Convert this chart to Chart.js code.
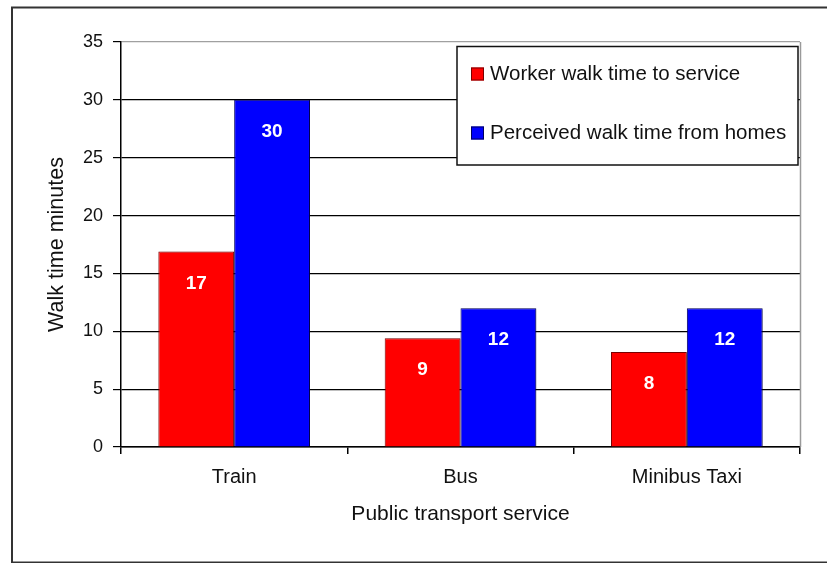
<!DOCTYPE html>
<html>
<head>
<meta charset="utf-8">
<script src="https://cdn.jsdelivr.net/npm/chart.js@4.4.1/dist/chart.umd.min.js"></script>
<style>
  html, body { margin: 0; padding: 0; background: #fff; }
  #wrap { width: 827px; height: 563px; }
</style>
</head>
<body>
<div id="wrap"><canvas id="c" width="827" height="563"></canvas></div>
<script>
const categories = ["Train", "Bus", "Minibus Taxi"];
const workerWalk = [16.9, 9.4, 8.2];
const perceivedWalk = [30, 12, 12];
const seriesNames = ["Worker walk time to service", "Perceived walk time from homes"];
const yTicks = [0, 5, 10, 15, 20, 25, 30, 35];
const xTitle = "Public transport service";
const yTitle = "Walk time minutes";

const FONT = "'Liberation Sans', Arial, sans-serif";

const decor = {
  id: 'decor',
  beforeDraw(chart) {
    const ctx = chart.ctx;
    ctx.save();
    ctx.fillStyle = '#fff';
    ctx.fillRect(0, 0, chart.width, chart.height);
    ctx.strokeStyle = '#333';
    ctx.lineWidth = 2;
    ctx.strokeRect(12, 7.5, 900, 555);
    ctx.restore();
  },
  beforeDatasetsDraw(chart) {
    const ctx = chart.ctx;
    ctx.save();
    ctx.shadowColor = 'rgba(0,0,0,0.25)';
    ctx.shadowOffsetX = 2;
    ctx.shadowOffsetY = 1;
    ctx.shadowBlur = 2;
  },
  afterDatasetsDraw(chart) {
    const ctx = chart.ctx;
    ctx.restore();
    const a = chart.chartArea;
    ctx.save();
    ctx.strokeStyle = '#9a9a9a';
    ctx.lineWidth = 1.5;
    ctx.beginPath();
    ctx.moveTo(a.right + 0.5, a.top);
    ctx.lineTo(a.right + 0.5, a.bottom);
    ctx.stroke();
    ctx.fillStyle = '#fff';
    ctx.font = "bold 19px " + FONT;
    ctx.textAlign = 'center';
    ctx.textBaseline = 'middle';
    chart.data.datasets.forEach((ds, di) => {
      const meta = chart.getDatasetMeta(di);
      meta.data.forEach((bar, i) => {
        ctx.fillText(String(Math.round(ds.data[i])), bar.x, bar.y + 32);
      });
    });
    ctx.restore();
  },
  afterDraw(chart) {
    const ctx = chart.ctx;
    const bx = 457, by = 46.5, bw = 341, bh = 118.5;
    ctx.save();
    ctx.fillStyle = '#fff';
    ctx.fillRect(bx, by, bw, bh);
    ctx.strokeStyle = '#111';
    ctx.lineWidth = 1.5;
    ctx.strokeRect(bx, by, bw, bh);
    const rows = [74, 133];
    ctx.font = "20.5px " + FONT;
    ctx.textAlign = 'left';
    ctx.textBaseline = 'middle';
    chart.data.datasets.forEach((ds, i) => {
      const y = rows[i];
      ctx.fillStyle = ds.backgroundColor;
      ctx.fillRect(471, y - 6.5, 13, 13);
      ctx.strokeStyle = ds.borderColor;
      ctx.lineWidth = 1;
      ctx.strokeRect(471.5, y - 6, 12, 12);
      ctx.fillStyle = '#111';
      ctx.fillText(ds.label, 490, y);
    });
    ctx.restore();
  }
};

new Chart(document.getElementById('c'), {
  type: 'bar',
  data: {
    labels: categories,
    datasets: [
      { label: seriesNames[0], data: workerWalk, backgroundColor: '#ff0000', borderColor: '#7a0000', borderWidth: 1 },
      { label: seriesNames[1], data: perceivedWalk, backgroundColor: '#0000ff', borderColor: '#000060', borderWidth: 1 }
    ]
  },
  options: {
    responsive: false,
    devicePixelRatio: 1,
    animation: false,
    layout: { padding: { left: 0, right: 27, top: 42, bottom: 0 } },
    plugins: { legend: { display: false }, tooltip: { enabled: false } },
    datasets: { bar: { categoryPercentage: 0.67, barPercentage: 1.0 } },
    scales: {
      x: {
        afterFit(s) { s.height = 116; },
        grid: { offset: true, drawOnChartArea: false, drawTicks: true, tickLength: 7, color: '#000', lineWidth: 1.5 },
        border: { color: '#000', width: 1.5 },
        ticks: { color: '#111', font: { family: FONT, size: 20 }, padding: 11 },
        title: { display: true, text: xTitle, color: '#111', font: { family: FONT, size: 21 }, padding: { top: 0, bottom: 36 } }
      },
      y: {
        min: 0, max: 35,
        afterFit(s) { s.width = 121; },
        afterBuildTicks(s) { s.ticks = yTicks.map(v => ({ value: v })); },
        grid: {
          color: (c) => (c.tick && c.tick.value === 35 ? '#a0a0a0' : '#000'),
          tickColor: '#000',
          lineWidth: 1.2,
          tickLength: 8
        },
        border: { color: '#000', width: 1.5 },
        ticks: { color: '#111', font: { family: FONT, size: 18 }, padding: 10 },
        title: { display: true, text: yTitle, color: '#111', font: { family: FONT, size: 21.5 }, padding: { top: 44, bottom: 0 } }
      }
    }
  },
  plugins: [decor]
});
</script>
</body>
</html>
